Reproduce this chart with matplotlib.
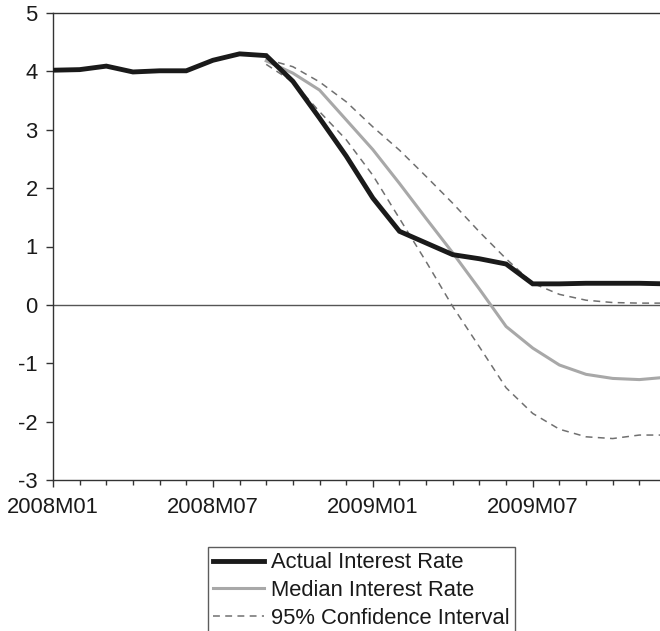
import matplotlib.pyplot as plt
import numpy as np

plt.rcParams['font.family'] = ['Liberation Sans', 'DejaVu Sans']
plt.rcParams['axes.unicode_minus'] = False

# monthly observations, 2008M01 .. 2009M12
months = [f'{y}M{m:02d}' for y in (2008, 2009) for m in range(1, 13)]

actual = [4.02, 4.03, 4.09, 3.99, 4.01, 4.01, 4.19, 4.30, 4.27, 3.83, 3.20, 2.55,
          1.83, 1.26, 1.06, 0.86, 0.79, 0.70, 0.36, 0.36, 0.37, 0.37, 0.37, 0.36]

# forecasts start at 2008M09
fc_start = 8
median = [4.18, 3.97, 3.68, 3.17, 2.66, 2.08, 1.48, 0.89, 0.27,
          -0.37, -0.74, -1.03, -1.19, -1.26, -1.28, -1.24]
upper = [4.21, 4.08, 3.82, 3.48, 3.05, 2.65, 2.20, 1.74, 1.25,
         0.79, 0.37, 0.18, 0.08, 0.04, 0.03, 0.03]
lower = [4.12, 3.82, 3.31, 2.83, 2.22, 1.48, 0.74, -0.03, -0.72,
         -1.42, -1.86, -2.13, -2.26, -2.29, -2.23, -2.23]

x = np.arange(len(months))
xf = x[fc_start:]

fig = plt.figure(figsize=(6.6, 6.31), dpi=100)
ax = fig.add_axes([53 / 660, 151 / 631, 613 / 660, 467 / 631])

ax.axhline(0, color='#555555', lw=1.0, zorder=1)
ax.plot(x, actual, color='#1a1a1a', lw=3.5, solid_joinstyle='miter',
        label='Actual Interest Rate', zorder=4)
ax.plot(xf, median, color='#a8a8a8', lw=2.2, label='Median Interest Rate', zorder=3)
ax.plot(xf, upper, color='#707070', lw=1.1, ls=(0, (4.5, 3.5)),
        label='95% Confidence Interval', zorder=2)
ax.plot(xf, lower, color='#707070', lw=1.1, ls=(0, (4.5, 3.5)), zorder=2)

ax.set_xlim(0, 23)
ax.set_ylim(-3, 5)
ax.set_yticks(range(-3, 6))
ax.set_xticks(x[::6])
ax.set_xticklabels(months[::6])
ax.set_xticks(x, minor=True)

for s in ax.spines.values():
    s.set_linewidth(1.0)
    s.set_color('#333333')
ax.spines['right'].set_visible(False)

ax.tick_params(axis='both', which='major', direction='out', length=5, width=1.0,
               color='#333333', labelsize=15.8, labelcolor='#1a1a1a')
ax.tick_params(axis='x', which='major', pad=7)
ax.tick_params(axis='y', which='major', pad=6)
ax.tick_params(axis='x', which='minor', direction='out', length=3.5, width=1.0,
               color='#333333')

leg = fig.legend(loc='upper left', bbox_to_anchor=(208 / 660, 1 - 547 / 631),
                 fontsize=15.8, frameon=True, fancybox=False, handlelength=2.3,
                 handletextpad=0.3, labelspacing=0.3, borderpad=0.25,
                 borderaxespad=0)
leg.get_frame().set_edgecolor('#333333')
leg.get_frame().set_linewidth(1.0)
for t in leg.get_texts():
    t.set_color('#1a1a1a')

fig.savefig('out.png', dpi=100)
